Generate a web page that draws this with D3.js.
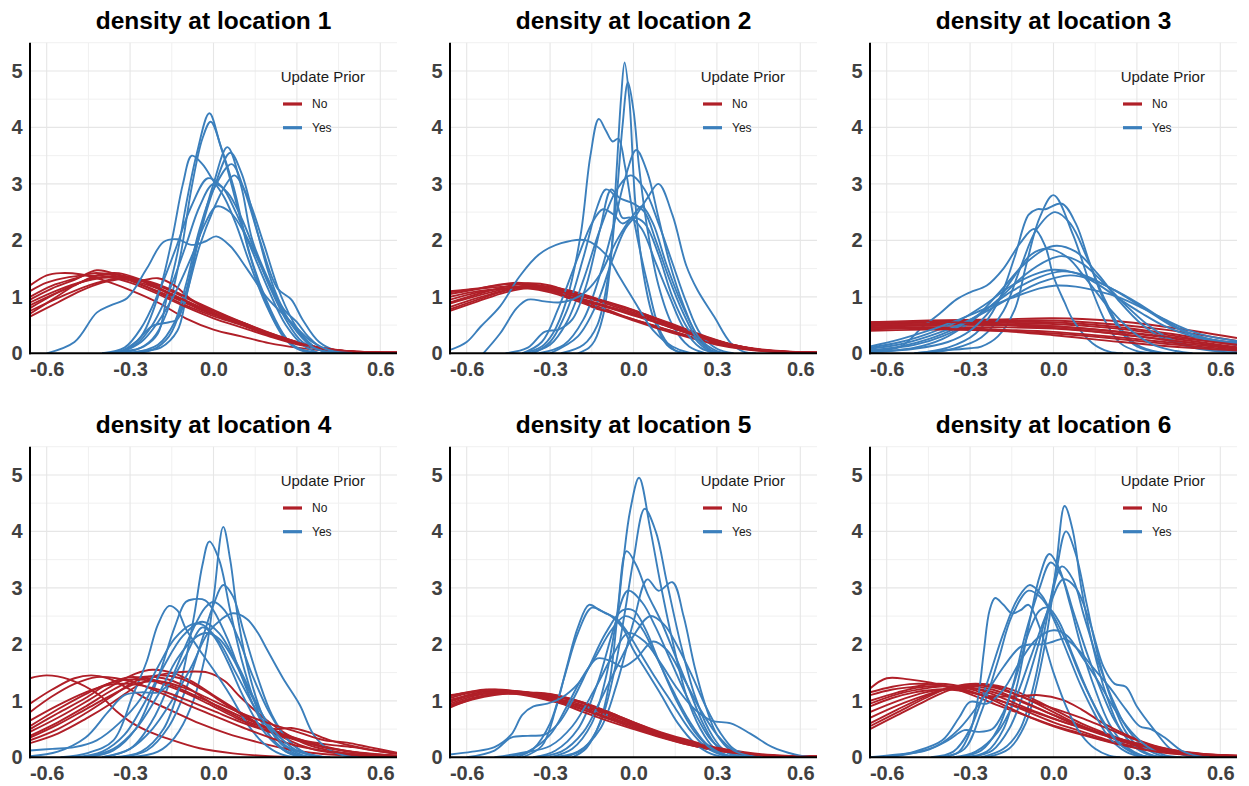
<!DOCTYPE html>
<html>
<head>
<meta charset="UTF-8">
<title>density at location</title>
<script src="https://d3js.org/d3.v7.min.js"></script>
<style>
  body { margin: 0; background: #fff; }
  text { font-family: "Liberation Sans", Arial, sans-serif; }
</style>
</head>
<body>
<svg id="chart" width="1249" height="786"></svg>
<script>

// tick labels, legend and titles
var xTicks = [-0.6, -0.3, 0.0, 0.3, 0.6];
var yTicks = [0, 1, 2, 3, 4, 5];
var titles = ["density at location 1", "density at location 2", "density at location 3",
              "density at location 4", "density at location 5", "density at location 6"];
var legendTitle = "Update Prior";
var groups = ["No", "Yes"];

// density curves, [x, density] per curve

var loc1No = [
  [[-0.66,1.2],[-0.6,1.38],[-0.55,1.42],[-0.48,1.4],[-0.4,1.3],[-0.3,1.12],[-0.2,0.9],[-0.1,0.62],[0,0.42],[0.1,0.3],[0.2,0.18],[0.3,0.1],[0.4,0.05],[0.5,0.02],[0.66,0.01]],
  [[-0.66,0.95],[-0.58,1.15],[-0.5,1.3],[-0.42,1.47],[-0.35,1.4],[-0.25,1.2],[-0.15,1.0],[-0.05,0.78],[0.05,0.6],[0.15,0.42],[0.25,0.25],[0.35,0.12],[0.45,0.05],[0.55,0.02],[0.66,0.01]],
  [[-0.66,0.7],[-0.58,0.95],[-0.5,1.2],[-0.42,1.38],[-0.36,1.4],[-0.28,1.32],[-0.2,1.15],[-0.1,0.9],[0,0.7],[0.1,0.52],[0.2,0.33],[0.3,0.17],[0.4,0.07],[0.5,0.03],[0.66,0.01]],
  [[-0.66,0.85],[-0.55,1.1],[-0.45,1.3],[-0.38,1.36],[-0.3,1.33],[-0.2,1.2],[-0.1,0.98],[0,0.75],[0.1,0.55],[0.2,0.35],[0.3,0.18],[0.4,0.08],[0.5,0.03],[0.66,0.01]],
  [[-0.66,0.75],[-0.55,1.0],[-0.45,1.2],[-0.35,1.32],[-0.27,1.28],[-0.2,1.33],[-0.14,1.2],[-0.08,0.95],[0,0.72],[0.1,0.55],[0.2,0.36],[0.3,0.2],[0.4,0.08],[0.5,0.03],[0.66,0.01]],
  [[-0.66,1.0],[-0.58,1.2],[-0.5,1.32],[-0.43,1.42],[-0.36,1.38],[-0.28,1.25],[-0.2,1.08],[-0.1,0.85],[0,0.66],[0.1,0.5],[0.2,0.32],[0.3,0.17],[0.4,0.07],[0.5,0.03],[0.66,0.01]],
  [[-0.66,0.65],[-0.56,0.9],[-0.48,1.1],[-0.4,1.25],[-0.32,1.32],[-0.24,1.28],[-0.15,1.12],[-0.05,0.88],[0.05,0.66],[0.15,0.46],[0.25,0.28],[0.35,0.13],[0.45,0.05],[0.55,0.02],[0.66,0.01]],
  [[-0.66,1.1],[-0.6,1.25],[-0.52,1.35],[-0.45,1.38],[-0.38,1.36],[-0.3,1.25],[-0.2,1.05],[-0.1,0.82],[0,0.62],[0.1,0.46],[0.2,0.3],[0.3,0.16],[0.4,0.07],[0.5,0.03],[0.66,0.01]],
  [[-0.66,0.8],[-0.57,1.05],[-0.48,1.25],[-0.4,1.4],[-0.34,1.42],[-0.26,1.3],[-0.18,1.12],[-0.08,0.88],[0.02,0.66],[0.12,0.48],[0.22,0.3],[0.32,0.15],[0.42,0.06],[0.52,0.02],[0.66,0.01]],
  [[-0.66,0.9],[-0.56,1.12],[-0.46,1.28],[-0.38,1.34],[-0.3,1.3],[-0.22,1.18],[-0.14,1.02],[-0.04,0.8],[0.06,0.6],[0.16,0.42],[0.26,0.25],[0.36,0.12],[0.46,0.05],[0.56,0.02],[0.66,0.01]]
];
var loc1Yes = [
  [[-0.4,0],[-0.3,0.05],[-0.25,0.12],[-0.2,0.35],[-0.17,0.94],[-0.13,1.77],[-0.096,2.7],[-0.06,3.54],[-0.015,4.25],[0.024,3.7],[0.072,2.95],[0.13,1.77],[0.19,0.94],[0.25,0.35],[0.29,0.12],[0.36,0.02],[0.42,0]],
  [[-0.38,0],[-0.28,0.06],[-0.22,0.25],[-0.17,0.7],[-0.12,1.7],[-0.08,2.9],[-0.04,3.8],[-0.01,4.1],[0.03,3.6],[0.08,2.7],[0.13,1.75],[0.18,1.0],[0.24,0.4],[0.3,0.1],[0.38,0]],
  [[-0.4,0],[-0.32,0.06],[-0.26,0.3],[-0.2,1.0],[-0.15,2.0],[-0.11,3.0],[-0.078,3.5],[-0.04,3.35],[0,3.05],[0.04,2.75],[0.08,2.3],[0.13,1.6],[0.19,0.85],[0.25,0.3],[0.3,0.08],[0.36,0]],
  [[-0.32,0],[-0.24,0.05],[-0.19,0.1],[-0.13,0.4],[-0.1,0.95],[-0.05,2.1],[0,3.0],[0.05,3.65],[0.1,2.95],[0.14,2.0],[0.22,1.06],[0.26,0.65],[0.31,0.35],[0.37,0.09],[0.43,0]],
  [[-0.3,0],[-0.22,0.06],[-0.16,0.3],[-0.11,0.9],[-0.06,1.9],[0,2.9],[0.06,3.55],[0.1,3.2],[0.15,2.3],[0.2,1.4],[0.25,0.8],[0.3,0.55],[0.34,0.3],[0.4,0.06],[0.46,0]],
  [[-0.3,0],[-0.2,0.15],[-0.14,0.55],[-0.1,1.2],[-0.05,2.2],[0,2.9],[0.065,3.35],[0.11,2.9],[0.17,1.95],[0.23,1.15],[0.28,0.95],[0.32,0.6],[0.38,0.2],[0.45,0.03],[0.5,0]],
  [[-0.34,0],[-0.28,0.2],[-0.22,0.48],[-0.16,0.55],[-0.13,0.6],[-0.1,1.0],[-0.05,1.9],[0,2.55],[0.04,2.95],[0.075,3.15],[0.12,2.8],[0.18,1.95],[0.24,1.05],[0.3,0.45],[0.36,0.12],[0.42,0]],
  [[-0.4,0],[-0.32,0.1],[-0.26,0.45],[-0.2,1.05],[-0.14,1.8],[-0.08,2.6],[-0.02,3.1],[0.03,2.95],[0.08,2.5],[0.14,1.8],[0.2,1.1],[0.26,0.5],[0.32,0.15],[0.38,0]],
  [[-0.36,0],[-0.28,0.15],[-0.22,0.5],[-0.16,1.1],[-0.1,1.9],[-0.05,2.6],[0,3.0],[0.05,2.85],[0.1,2.4],[0.15,1.8],[0.2,1.2],[0.26,0.6],[0.32,0.2],[0.4,0.03],[0.46,0]],
  [[-0.34,0],[-0.26,0.2],[-0.2,0.55],[-0.14,1.05],[-0.08,1.7],[-0.03,2.3],[0.01,2.6],[0.06,2.5],[0.12,2.05],[0.18,1.45],[0.24,0.85],[0.3,0.38],[0.36,0.1],[0.44,0]],
  [[-0.6,0],[-0.5,0.2],[-0.42,0.72],[-0.37,0.85],[-0.31,0.98],[-0.24,1.5],[-0.18,1.97],[-0.13,2.02],[-0.08,1.92],[-0.03,1.98],[0.01,2.07],[0.06,1.9],[0.12,1.5],[0.19,1.0],[0.27,0.6],[0.35,0.22],[0.42,0.05],[0.5,0]]
];

var loc2No = [
  [[-0.66,1.1],[-0.56,1.15],[-0.46,1.22],[-0.38,1.22],[-0.3,1.12],[-0.2,0.95],[-0.1,0.78],[0,0.6],[0.1,0.45],[0.2,0.3],[0.3,0.18],[0.4,0.09],[0.5,0.04],[0.66,0.01]],
  [[-0.66,0.75],[-0.56,0.92],[-0.46,1.08],[-0.38,1.15],[-0.3,1.12],[-0.2,1.02],[-0.1,0.88],[0,0.72],[0.1,0.56],[0.2,0.38],[0.3,0.22],[0.4,0.11],[0.5,0.05],[0.66,0.01]],
  [[-0.66,0.9],[-0.56,1.05],[-0.46,1.18],[-0.38,1.24],[-0.3,1.2],[-0.22,1.05],[-0.15,0.82],[-0.08,0.72],[0,0.6],[0.1,0.45],[0.2,0.3],[0.3,0.17],[0.4,0.08],[0.5,0.03],[0.66,0.01]],
  [[-0.66,1.0],[-0.56,1.1],[-0.46,1.15],[-0.36,1.18],[-0.26,1.12],[-0.16,1.0],[-0.06,0.85],[0.04,0.68],[0.14,0.5],[0.24,0.32],[0.34,0.17],[0.44,0.07],[0.54,0.03],[0.66,0.01]],
  [[-0.66,0.82],[-0.56,0.98],[-0.46,1.12],[-0.38,1.2],[-0.3,1.18],[-0.22,1.1],[-0.12,0.95],[-0.02,0.8],[0.08,0.62],[0.18,0.42],[0.28,0.25],[0.38,0.12],[0.48,0.05],[0.66,0.01]],
  [[-0.66,1.05],[-0.58,1.12],[-0.5,1.2],[-0.42,1.25],[-0.34,1.2],[-0.26,1.08],[-0.18,0.95],[-0.08,0.8],[0.02,0.65],[0.12,0.48],[0.22,0.32],[0.32,0.18],[0.42,0.08],[0.52,0.03],[0.66,0.01]],
  [[-0.66,0.95],[-0.56,1.08],[-0.46,1.15],[-0.38,1.15],[-0.3,1.08],[-0.2,0.92],[-0.1,0.75],[0,0.58],[0.1,0.42],[0.2,0.28],[0.3,0.15],[0.4,0.07],[0.5,0.03],[0.66,0.01]],
  [[-0.66,0.78],[-0.56,0.95],[-0.48,1.08],[-0.4,1.16],[-0.32,1.16],[-0.24,1.08],[-0.14,0.96],[-0.04,0.82],[0.06,0.66],[0.16,0.48],[0.26,0.3],[0.36,0.15],[0.46,0.06],[0.56,0.02],[0.66,0.01]],
  [[-0.66,1.08],[-0.56,1.14],[-0.46,1.18],[-0.38,1.17],[-0.3,1.1],[-0.22,0.98],[-0.12,0.85],[-0.02,0.7],[0.08,0.55],[0.18,0.38],[0.28,0.22],[0.38,0.1],[0.48,0.04],[0.66,0.01]],
  [[-0.66,0.88],[-0.56,1.02],[-0.46,1.14],[-0.38,1.2],[-0.3,1.16],[-0.22,1.02],[-0.14,0.9],[-0.04,0.76],[0.06,0.6],[0.16,0.44],[0.26,0.28],[0.36,0.14],[0.46,0.06],[0.56,0.02],[0.66,0.01]]
];
var loc2Yes = [
  [[-0.2,0],[-0.16,0.1],[-0.14,0.22],[-0.11,0.65],[-0.084,1.53],[-0.06,3.3],[-0.045,4.5],[-0.032,5.15],[-0.015,4.5],[0.006,2.7],[0.036,1.4],[0.07,0.65],[0.12,0.15],[0.16,0.03],[0.2,0]],
  [[-0.26,0],[-0.18,0.15],[-0.13,0.5],[-0.09,1.4],[-0.06,2.8],[-0.04,4.0],[-0.02,4.8],[0,4.3],[0.02,3.3],[0.05,2.2],[0.09,1.2],[0.14,0.5],[0.2,0.12],[0.26,0]],
  [[-0.4,0],[-0.33,0.12],[-0.29,0.35],[-0.24,0.95],[-0.19,2.1],[-0.155,3.5],[-0.125,4.15],[-0.1,3.95],[-0.075,3.75],[-0.055,3.8],[-0.03,3.3],[0,2.4],[0.05,1.24],[0.1,0.35],[0.15,0.05],[0.2,0]],
  [[-0.34,0],[-0.25,0.15],[-0.18,0.6],[-0.12,1.4],[-0.07,2.3],[-0.03,3.1],[0.01,3.6],[0.05,3.2],[0.09,2.4],[0.13,1.6],[0.18,0.85],[0.23,0.3],[0.28,0.05],[0.32,0]],
  [[-0.38,0],[-0.3,0.15],[-0.24,0.55],[-0.18,1.3],[-0.12,2.2],[-0.06,2.9],[-0.01,3.15],[0.04,2.9],[0.09,2.3],[0.14,1.6],[0.19,0.9],[0.24,0.35],[0.3,0.08],[0.36,0]],
  [[-0.3,0],[-0.2,0.3],[-0.13,0.9],[-0.08,1.6],[-0.03,2.2],[0.01,2.45],[0.05,2.75],[0.09,3.0],[0.14,2.45],[0.19,1.55],[0.23,1.12],[0.29,0.65],[0.35,0.18],[0.4,0.02],[0.44,0]],
  [[-0.36,0],[-0.3,0.2],[-0.24,0.75],[-0.18,1.7],[-0.13,2.6],[-0.1,2.9],[-0.07,2.8],[-0.04,2.4],[-0.01,2.4],[0.03,2.2],[0.08,1.6],[0.13,1.0],[0.18,0.45],[0.24,0.1],[0.3,0]],
  [[-0.4,0],[-0.33,0.2],[-0.27,0.8],[-0.2,1.7],[-0.15,2.3],[-0.11,2.55],[-0.07,2.45],[-0.04,2.3],[0,2.4],[0.04,2.3],[0.09,1.75],[0.14,1.0],[0.2,0.4],[0.26,0.08],[0.32,0]],
  [[-0.66,0.06],[-0.6,0.2],[-0.55,0.47],[-0.48,0.83],[-0.41,1.36],[-0.34,1.75],[-0.26,1.95],[-0.17,2.0],[-0.1,1.75],[-0.05,1.35],[0,0.95],[0.07,0.41],[0.14,0.12],[0.2,0.01],[0.24,0]],
  [[-0.54,0],[-0.48,0.35],[-0.42,0.8],[-0.38,0.95],[-0.32,0.92],[-0.27,0.9],[-0.22,0.95],[-0.17,1.1],[-0.12,1.4],[-0.06,2.0],[0,2.45],[0.03,2.6],[0.07,2.3],[0.12,1.55],[0.18,0.8],[0.24,0.25],[0.3,0.04],[0.35,0]],
  [[-0.46,0],[-0.38,0.1],[-0.32,0.38],[-0.27,0.42],[-0.22,0.6],[-0.17,1.2],[-0.12,2.2],[-0.08,2.9],[-0.05,2.75],[0,2.65],[0.04,2.5],[0.08,2.0],[0.13,1.3],[0.18,0.7],[0.23,0.25],[0.28,0.05],[0.32,0]]
];

var loc3No = [
  [[-0.66,0.55],[-0.45,0.58],[-0.2,0.6],[0,0.62],[0.2,0.58],[0.4,0.47],[0.66,0.27]],
  [[-0.66,0.5],[-0.45,0.55],[-0.2,0.58],[0,0.58],[0.2,0.52],[0.4,0.42],[0.66,0.22]],
  [[-0.66,0.52],[-0.45,0.56],[-0.2,0.56],[0,0.55],[0.2,0.48],[0.4,0.36],[0.66,0.17]],
  [[-0.66,0.48],[-0.45,0.52],[-0.2,0.54],[0,0.52],[0.2,0.45],[0.4,0.33],[0.66,0.14]],
  [[-0.66,0.45],[-0.45,0.5],[-0.2,0.5],[0,0.48],[0.2,0.4],[0.4,0.28],[0.66,0.11]],
  [[-0.66,0.42],[-0.45,0.46],[-0.2,0.46],[0,0.44],[0.2,0.36],[0.4,0.24],[0.66,0.09]],
  [[-0.66,0.5],[-0.45,0.52],[-0.2,0.5],[0,0.45],[0.2,0.36],[0.4,0.24],[0.66,0.1]],
  [[-0.66,0.46],[-0.45,0.46],[-0.2,0.42],[0,0.38],[0.2,0.3],[0.4,0.2],[0.66,0.08]],
  [[-0.66,0.4],[-0.45,0.42],[-0.2,0.4],[0,0.35],[0.2,0.27],[0.4,0.17],[0.66,0.06]],
  [[-0.66,0.44],[-0.45,0.44],[-0.2,0.4],[0,0.32],[0.2,0.22],[0.4,0.13],[0.66,0.05]],
  [[-0.66,0.55],[-0.45,0.56],[-0.2,0.52],[0,0.48],[0.2,0.4],[0.4,0.3],[0.66,0.15]]
];
var loc3Yes = [
  [[-0.5,0],[-0.4,0.05],[-0.3,0.09],[-0.26,0.12],[-0.2,0.3],[-0.14,0.77],[-0.1,1.53],[-0.05,2.4],[0,2.8],[0.07,2.1],[0.14,1.1],[0.19,0.53],[0.24,0.18],[0.3,0.04],[0.36,0]],
  [[-0.5,0],[-0.38,0.1],[-0.28,0.35],[-0.2,0.9],[-0.14,1.7],[-0.09,2.45],[-0.06,2.55],[-0.03,2.55],[0.03,2.65],[0.08,2.3],[0.13,1.6],[0.18,0.95],[0.24,0.4],[0.3,0.12],[0.38,0.01],[0.42,0]],
  [[-0.46,0],[-0.36,0.08],[-0.26,0.28],[-0.18,0.75],[-0.12,1.5],[-0.06,2.2],[0.005,2.5],[0.06,2.3],[0.12,1.7],[0.18,1.0],[0.24,0.45],[0.3,0.15],[0.38,0.02],[0.44,0]],
  [[-0.66,0.05],[-0.55,0.12],[-0.47,0.47],[-0.41,0.7],[-0.35,0.95],[-0.3,1.08],[-0.24,1.2],[-0.18,1.5],[-0.12,1.95],[-0.07,2.2],[-0.03,1.9],[0,1.36],[0.04,0.9],[0.07,0.59],[0.14,0.18],[0.2,0.03],[0.25,0]],
  [[-0.66,0.05],[-0.5,0.15],[-0.4,0.3],[-0.3,0.55],[-0.2,1.05],[-0.1,1.6],[0,1.9],[0.08,1.8],[0.16,1.4],[0.24,0.9],[0.32,0.5],[0.4,0.25],[0.5,0.1],[0.6,0.03],[0.66,0.02]],
  [[-0.66,0.02],[-0.5,0.1],[-0.4,0.25],[-0.3,0.55],[-0.2,0.95],[-0.1,1.4],[-0.02,1.65],[0.03,1.72],[0.1,1.6],[0.18,1.25],[0.26,0.85],[0.34,0.5],[0.42,0.25],[0.52,0.1],[0.66,0.04]],
  [[-0.66,0.1],[-0.55,0.2],[-0.45,0.35],[-0.35,0.55],[-0.25,0.85],[-0.15,1.2],[-0.05,1.43],[0,1.48],[0.08,1.42],[0.16,1.22],[0.24,0.95],[0.32,0.7],[0.4,0.48],[0.5,0.3],[0.6,0.2],[0.66,0.15]],
  [[-0.66,0.05],[-0.55,0.12],[-0.45,0.25],[-0.35,0.45],[-0.25,0.75],[-0.15,1.1],[-0.05,1.35],[0.03,1.45],[0.1,1.4],[0.18,1.22],[0.26,1.0],[0.34,0.75],[0.42,0.5],[0.5,0.33],[0.6,0.22],[0.66,0.2]],
  [[-0.66,0.08],[-0.55,0.16],[-0.45,0.3],[-0.35,0.48],[-0.25,0.72],[-0.15,1.0],[-0.05,1.25],[0.06,1.38],[0.14,1.3],[0.22,1.12],[0.3,0.9],[0.38,0.65],[0.46,0.42],[0.56,0.25],[0.66,0.18]],
  [[-0.66,0.12],[-0.55,0.25],[-0.45,0.4],[-0.35,0.58],[-0.25,0.78],[-0.15,0.98],[-0.05,1.15],[0.01,1.2],[0.08,1.18],[0.16,1.1],[0.24,0.98],[0.32,0.8],[0.4,0.6],[0.48,0.42],[0.56,0.3],[0.66,0.22]],
  [[-0.66,0.02],[-0.5,0.08],[-0.38,0.2],[-0.3,0.4],[-0.22,0.8],[-0.15,1.3],[-0.08,1.75],[-0.02,1.85],[0.05,1.7],[0.12,1.3],[0.2,0.8],[0.28,0.4],[0.36,0.15],[0.44,0.04],[0.5,0]]
];

var loc4No = [
  [[-0.66,1.4],[-0.6,1.45],[-0.52,1.38],[-0.41,1.1],[-0.35,0.82],[-0.29,0.6],[-0.23,0.45],[-0.17,0.34],[-0.05,0.16],[0.07,0.07],[0.2,0.02],[0.3,0]],
  [[-0.66,0.95],[-0.58,1.2],[-0.5,1.4],[-0.44,1.45],[-0.38,1.4],[-0.3,1.2],[-0.22,0.98],[-0.14,0.8],[-0.05,0.6],[0.05,0.42],[0.15,0.28],[0.25,0.16],[0.35,0.08],[0.45,0.04],[0.55,0.02],[0.66,0.01]],
  [[-0.66,0.45],[-0.56,0.7],[-0.46,0.98],[-0.36,1.28],[-0.28,1.48],[-0.22,1.55],[-0.15,1.5],[-0.08,1.35],[0,1.1],[0.08,0.85],[0.16,0.6],[0.24,0.38],[0.32,0.2],[0.4,0.1],[0.5,0.04],[0.66,0.01]],
  [[-0.66,0.25],[-0.56,0.42],[-0.46,0.68],[-0.36,0.98],[-0.28,1.25],[-0.2,1.45],[-0.14,1.5],[-0.02,1.5],[0.04,1.35],[0.1,1.05],[0.18,0.7],[0.26,0.42],[0.34,0.22],[0.44,0.1],[0.54,0.04],[0.66,0.01]],
  [[-0.66,0.5],[-0.56,0.78],[-0.46,1.05],[-0.38,1.3],[-0.3,1.42],[-0.22,1.38],[-0.14,1.25],[-0.06,1.08],[0.02,0.9],[0.1,0.72],[0.18,0.55],[0.26,0.4],[0.34,0.27],[0.44,0.15],[0.54,0.07],[0.66,0.02]],
  [[-0.66,0.38],[-0.56,0.62],[-0.46,0.9],[-0.36,1.2],[-0.26,1.42],[-0.18,1.4],[-0.1,1.25],[-0.02,1.0],[0.06,0.78],[0.14,0.6],[0.22,0.5],[0.28,0.52],[0.34,0.45],[0.42,0.3],[0.5,0.2],[0.58,0.12],[0.66,0.06]],
  [[-0.66,0.55],[-0.56,0.85],[-0.46,1.12],[-0.38,1.3],[-0.3,1.38],[-0.22,1.35],[-0.12,1.18],[-0.02,0.95],[0.08,0.7],[0.18,0.5],[0.26,0.38],[0.34,0.28],[0.42,0.22],[0.5,0.18],[0.58,0.12],[0.66,0.07]],
  [[-0.66,0.3],[-0.56,0.5],[-0.46,0.78],[-0.36,1.1],[-0.28,1.35],[-0.2,1.45],[-0.12,1.4],[-0.04,1.2],[0.04,0.95],[0.12,0.7],[0.2,0.5],[0.28,0.35],[0.36,0.22],[0.46,0.12],[0.56,0.06],[0.66,0.03]],
  [[-0.66,0.65],[-0.56,0.92],[-0.46,1.15],[-0.38,1.28],[-0.3,1.3],[-0.2,1.2],[-0.1,1.02],[0,0.82],[0.1,0.62],[0.2,0.45],[0.3,0.3],[0.4,0.18],[0.5,0.1],[0.6,0.05],[0.66,0.03]],
  [[-0.66,0.8],[-0.58,1.08],[-0.5,1.3],[-0.42,1.42],[-0.35,1.4],[-0.27,1.3],[-0.18,1.12],[-0.08,0.9],[0.02,0.7],[0.12,0.5],[0.22,0.32],[0.32,0.18],[0.42,0.1],[0.52,0.05],[0.66,0.02]],
  [[-0.66,0.35],[-0.56,0.58],[-0.46,0.85],[-0.36,1.12],[-0.28,1.3],[-0.2,1.35],[-0.1,1.22],[0,1.0],[0.1,0.78],[0.2,0.6],[0.3,0.45],[0.4,0.3],[0.48,0.26],[0.56,0.18],[0.66,0.08]]
];
var loc4Yes = [
  [[-0.3,0],[-0.2,0.1],[-0.14,0.35],[-0.08,0.9],[-0.03,1.8],[0,2.8],[0.035,4.08],[0.06,3.5],[0.09,2.4],[0.13,1.45],[0.18,0.7],[0.24,0.25],[0.3,0.05],[0.36,0]],
  [[-0.36,0],[-0.26,0.1],[-0.18,0.5],[-0.12,1.3],[-0.07,2.5],[-0.04,3.4],[-0.015,3.82],[0.02,3.5],[0.06,2.6],[0.1,1.75],[0.15,0.95],[0.2,0.4],[0.26,0.1],[0.32,0]],
  [[-0.34,0],[-0.24,0.12],[-0.16,0.55],[-0.1,1.2],[-0.04,2.1],[0,2.7],[0.035,3.05],[0.07,2.85],[0.11,2.2],[0.16,1.4],[0.21,0.75],[0.27,0.3],[0.33,0.08],[0.4,0]],
  [[-0.45,0],[-0.36,0.12],[-0.28,0.5],[-0.2,1.4],[-0.14,2.3],[-0.1,2.75],[-0.07,2.8],[-0.03,2.78],[0,2.6],[0.05,2.1],[0.1,1.45],[0.15,0.85],[0.2,0.4],[0.26,0.12],[0.32,0]],
  [[-0.4,0],[-0.3,0.15],[-0.22,0.65],[-0.15,1.4],[-0.08,2.2],[-0.03,2.65],[0,2.75],[0.04,2.6],[0.09,2.1],[0.14,1.45],[0.2,0.8],[0.26,0.35],[0.32,0.1],[0.38,0]],
  [[-0.55,0],[-0.45,0.08],[-0.36,0.3],[-0.29,1.1],[-0.24,1.7],[-0.2,2.35],[-0.16,2.68],[-0.13,2.6],[-0.1,2.28],[-0.05,1.9],[0,1.55],[0.06,1.1],[0.12,0.6],[0.18,0.25],[0.24,0.06],[0.3,0]],
  [[-0.4,0],[-0.3,0.15],[-0.22,0.5],[-0.15,1.0],[-0.08,1.6],[-0.02,2.2],[0.03,2.45],[0.07,2.55],[0.12,2.45],[0.16,2.2],[0.19,1.93],[0.25,1.4],[0.31,0.93],[0.36,0.4],[0.42,0.12],[0.48,0.02],[0.52,0]],
  [[-0.5,0],[-0.4,0.1],[-0.32,0.4],[-0.25,0.95],[-0.18,1.6],[-0.11,2.15],[-0.04,2.4],[0.02,2.2],[0.08,1.7],[0.14,1.1],[0.2,0.55],[0.26,0.2],[0.32,0.04],[0.38,0]],
  [[-0.66,0.02],[-0.56,0.1],[-0.46,0.35],[-0.38,0.8],[-0.32,1.1],[-0.26,1.15],[-0.2,1.15],[-0.16,1.3],[-0.1,1.8],[-0.04,2.3],[0,2.15],[0.05,1.7],[0.1,1.15],[0.16,0.6],[0.22,0.25],[0.28,0.06],[0.34,0]],
  [[-0.46,0],[-0.36,0.15],[-0.28,0.5],[-0.2,1.1],[-0.13,1.75],[-0.07,2.1],[-0.03,2.2],[0.02,2.1],[0.07,1.75],[0.12,1.25],[0.18,0.72],[0.24,0.35],[0.3,0.12],[0.38,0.02],[0.42,0]],
  [[-0.66,0.12],[-0.58,0.15],[-0.5,0.18],[-0.42,0.3],[-0.34,0.6],[-0.26,1.05],[-0.2,1.6],[-0.14,2.1],[-0.08,2.35],[-0.04,2.35],[0.02,2.05],[0.08,1.5],[0.14,0.95],[0.2,0.5],[0.26,0.2],[0.34,0.05],[0.4,0]]
];

var loc5No = [
  [[-0.66,1.1],[-0.6,1.15],[-0.53,1.2],[-0.45,1.18],[-0.37,1.15],[-0.3,1.12],[-0.24,1.05],[-0.15,0.92],[-0.05,0.72],[0.05,0.52],[0.15,0.34],[0.25,0.2],[0.35,0.1],[0.45,0.04],[0.55,0.02],[0.66,0.01]],
  [[-0.66,0.88],[-0.6,1.0],[-0.53,1.1],[-0.45,1.15],[-0.37,1.12],[-0.3,1.05],[-0.22,0.95],[-0.15,0.85],[-0.05,0.65],[0.05,0.45],[0.15,0.3],[0.25,0.17],[0.35,0.09],[0.45,0.04],[0.55,0.02],[0.66,0.01]],
  [[-0.66,1.0],[-0.58,1.12],[-0.5,1.18],[-0.42,1.16],[-0.34,1.08],[-0.26,0.98],[-0.18,0.85],[-0.1,0.7],[0,0.52],[0.1,0.36],[0.2,0.22],[0.3,0.12],[0.4,0.06],[0.5,0.02],[0.66,0.01]],
  [[-0.66,0.95],[-0.58,1.08],[-0.5,1.15],[-0.42,1.15],[-0.34,1.1],[-0.26,1.02],[-0.18,0.92],[-0.1,0.78],[0,0.58],[0.1,0.4],[0.2,0.26],[0.3,0.14],[0.4,0.07],[0.5,0.03],[0.66,0.01]],
  [[-0.66,1.05],[-0.58,1.15],[-0.5,1.2],[-0.42,1.17],[-0.34,1.12],[-0.28,1.1],[-0.2,1.0],[-0.12,0.85],[-0.02,0.62],[0.08,0.44],[0.18,0.28],[0.28,0.16],[0.38,0.08],[0.48,0.03],[0.66,0.01]],
  [[-0.66,0.92],[-0.58,1.05],[-0.5,1.12],[-0.42,1.12],[-0.34,1.05],[-0.26,0.95],[-0.18,0.8],[-0.1,0.66],[0,0.5],[0.1,0.35],[0.2,0.22],[0.3,0.12],[0.4,0.06],[0.5,0.02],[0.66,0.01]],
  [[-0.66,1.02],[-0.58,1.1],[-0.5,1.14],[-0.42,1.14],[-0.34,1.1],[-0.26,1.05],[-0.18,0.96],[-0.1,0.82],[0,0.62],[0.1,0.44],[0.2,0.3],[0.3,0.17],[0.4,0.09],[0.5,0.04],[0.66,0.01]],
  [[-0.66,0.9],[-0.58,1.02],[-0.5,1.1],[-0.42,1.13],[-0.34,1.1],[-0.26,1.0],[-0.18,0.88],[-0.1,0.72],[0,0.55],[0.1,0.38],[0.2,0.24],[0.3,0.13],[0.4,0.06],[0.5,0.03],[0.66,0.01]],
  [[-0.66,1.08],[-0.58,1.16],[-0.5,1.18],[-0.42,1.15],[-0.34,1.06],[-0.26,0.96],[-0.18,0.84],[-0.1,0.7],[0,0.56],[0.1,0.42],[0.2,0.28],[0.3,0.15],[0.4,0.07],[0.5,0.03],[0.66,0.01]],
  [[-0.66,0.98],[-0.58,1.1],[-0.5,1.16],[-0.42,1.16],[-0.34,1.12],[-0.26,1.06],[-0.18,0.95],[-0.1,0.8],[0,0.6],[0.1,0.42],[0.2,0.27],[0.3,0.15],[0.4,0.07],[0.5,0.03],[0.66,0.01]]
];
var loc5Yes = [
  [[-0.22,0],[-0.17,0.16],[-0.12,0.63],[-0.084,1.4],[-0.06,2.4],[-0.036,3.5],[-0.012,4.37],[0.02,4.95],[0.06,4.05],[0.096,3.1],[0.144,1.98],[0.19,1.1],[0.24,0.51],[0.29,0.16],[0.34,0.03],[0.38,0]],
  [[-0.25,0],[-0.18,0.15],[-0.12,0.6],[-0.07,1.5],[-0.03,2.6],[0,3.5],[0.04,4.4],[0.08,4.0],[0.12,3.1],[0.17,2.0],[0.22,1.1],[0.27,0.5],[0.32,0.15],[0.38,0.02],[0.42,0]],
  [[-0.3,0],[-0.22,0.15],[-0.15,0.6],[-0.1,1.4],[-0.06,2.5],[-0.025,3.65],[0.01,3.4],[0.05,2.9],[0.1,2.4],[0.15,1.8],[0.2,1.2],[0.25,0.6],[0.3,0.2],[0.36,0.04],[0.4,0]],
  [[-0.3,0],[-0.2,0.1],[-0.12,0.5],[-0.06,1.3],[0,2.4],[0.05,3.15],[0.09,2.95],[0.14,3.1],[0.18,2.5],[0.22,1.6],[0.26,0.9],[0.3,0.4],[0.35,0.12],[0.4,0.02],[0.44,0]],
  [[-0.36,0],[-0.28,0.12],[-0.2,0.5],[-0.13,1.3],[-0.07,2.3],[-0.02,2.95],[0.03,2.75],[0.08,2.3],[0.13,1.75],[0.18,1.2],[0.23,0.7],[0.28,0.3],[0.34,0.08],[0.4,0]],
  [[-0.4,0],[-0.33,0.2],[-0.28,0.85],[-0.24,1.6],[-0.2,2.3],[-0.16,2.7],[-0.12,2.6],[-0.08,2.5],[-0.04,2.3],[0,1.9],[0.05,1.5],[0.1,1.1],[0.16,0.6],[0.22,0.25],[0.28,0.06],[0.34,0]],
  [[-0.42,0],[-0.36,0.15],[-0.3,0.6],[-0.25,1.4],[-0.2,2.2],[-0.15,2.65],[-0.1,2.55],[-0.06,2.45],[-0.02,2.2],[0.03,1.8],[0.08,1.4],[0.14,0.95],[0.2,0.5],[0.26,0.18],[0.32,0.04],[0.36,0]],
  [[-0.36,0],[-0.26,0.1],[-0.18,0.45],[-0.12,1.0],[-0.06,1.6],[0,2.15],[0.06,2.5],[0.11,2.35],[0.16,1.95],[0.21,1.45],[0.26,0.9],[0.31,0.45],[0.36,0.15],[0.42,0.03],[0.46,0]],
  [[-0.5,0],[-0.4,0.08],[-0.3,0.2],[-0.22,0.55],[-0.14,1.2],[-0.07,1.85],[-0.02,2.2],[0.04,2.05],[0.1,1.65],[0.16,1.2],[0.22,0.85],[0.28,0.65],[0.35,0.6],[0.42,0.42],[0.5,0.18],[0.58,0.05],[0.64,0]],
  [[-0.46,0],[-0.38,0.1],[-0.3,0.4],[-0.24,0.9],[-0.18,1.45],[-0.13,1.75],[-0.08,1.7],[-0.04,1.6],[0.01,1.75],[0.07,2.05],[0.12,1.9],[0.18,1.4],[0.24,0.85],[0.3,0.4],[0.36,0.12],[0.42,0.02],[0.46,0]],
  [[-0.66,0.05],[-0.58,0.1],[-0.5,0.18],[-0.44,0.4],[-0.4,0.75],[-0.36,0.9],[-0.31,0.95],[-0.26,1.05],[-0.2,1.3],[-0.14,1.75],[-0.08,2.25],[-0.03,2.5],[0.02,2.35],[0.08,1.8],[0.14,1.2],[0.2,0.65],[0.26,0.25],[0.32,0.06],[0.38,0]],
  [[-0.6,0],[-0.5,0.12],[-0.44,0.35],[-0.38,0.38],[-0.32,0.4],[-0.27,0.6],[-0.22,1.0],[-0.16,1.6],[-0.1,2.2],[-0.04,2.6],[0,2.6],[0.04,2.3],[0.1,1.6],[0.16,0.95],[0.22,0.45],[0.28,0.15],[0.34,0.03],[0.4,0]]
];

var loc6No = [
  [[-0.66,1.22],[-0.6,1.4],[-0.52,1.38],[-0.44,1.32],[-0.36,1.22],[-0.28,1.08],[-0.2,0.92],[-0.1,0.74],[0,0.56],[0.1,0.42],[0.2,0.28],[0.3,0.17],[0.4,0.09],[0.5,0.05],[0.66,0.02]],
  [[-0.66,0.5],[-0.56,0.75],[-0.46,1.0],[-0.38,1.18],[-0.3,1.28],[-0.22,1.28],[-0.14,1.18],[-0.06,1.0],[0.02,0.8],[0.1,0.6],[0.2,0.4],[0.3,0.23],[0.4,0.12],[0.5,0.06],[0.66,0.02]],
  [[-0.66,0.55],[-0.56,0.8],[-0.46,1.05],[-0.38,1.22],[-0.3,1.3],[-0.23,1.28],[-0.15,1.15],[-0.06,0.95],[0.02,0.75],[0.1,0.56],[0.2,0.38],[0.3,0.22],[0.4,0.12],[0.5,0.06],[0.66,0.02]],
  [[-0.66,1.1],[-0.58,1.2],[-0.5,1.25],[-0.43,1.3],[-0.36,1.28],[-0.28,1.18],[-0.2,1.02],[-0.1,0.82],[0,0.62],[0.1,0.46],[0.2,0.3],[0.3,0.18],[0.4,0.1],[0.5,0.05],[0.66,0.02]],
  [[-0.66,0.9],[-0.58,1.05],[-0.5,1.15],[-0.42,1.2],[-0.34,1.22],[-0.26,1.2],[-0.18,1.1],[-0.1,0.95],[0,0.75],[0.1,0.55],[0.2,0.36],[0.3,0.2],[0.4,0.11],[0.5,0.05],[0.66,0.02]],
  [[-0.66,0.8],[-0.56,1.0],[-0.46,1.15],[-0.38,1.2],[-0.3,1.15],[-0.22,1.08],[-0.14,1.08],[-0.05,1.1],[0.03,1.02],[0.1,0.85],[0.18,0.6],[0.26,0.4],[0.34,0.24],[0.44,0.12],[0.54,0.06],[0.66,0.03]],
  [[-0.66,0.6],[-0.56,0.85],[-0.46,1.08],[-0.38,1.22],[-0.3,1.26],[-0.22,1.2],[-0.14,1.05],[-0.06,0.88],[0.02,0.7],[0.1,0.54],[0.2,0.38],[0.3,0.25],[0.4,0.14],[0.5,0.07],[0.66,0.03]],
  [[-0.66,1.15],[-0.58,1.25],[-0.5,1.3],[-0.42,1.28],[-0.34,1.2],[-0.26,1.1],[-0.18,0.98],[-0.08,0.82],[0.02,0.65],[0.12,0.5],[0.22,0.35],[0.32,0.21],[0.42,0.11],[0.52,0.05],[0.66,0.02]],
  [[-0.66,0.95],[-0.56,1.12],[-0.46,1.22],[-0.38,1.26],[-0.3,1.24],[-0.22,1.12],[-0.14,0.96],[-0.06,0.8],[0.02,0.65],[0.1,0.52],[0.2,0.36],[0.3,0.22],[0.4,0.12],[0.5,0.06],[0.66,0.02]],
  [[-0.66,0.7],[-0.56,0.92],[-0.46,1.1],[-0.38,1.22],[-0.3,1.28],[-0.22,1.24],[-0.14,1.12],[-0.05,0.95],[0.04,0.8],[0.12,0.66],[0.2,0.5],[0.28,0.34],[0.36,0.2],[0.46,0.1],[0.56,0.05],[0.66,0.03]],
  [[-0.66,1.0],[-0.56,1.15],[-0.48,1.24],[-0.4,1.26],[-0.32,1.2],[-0.24,1.06],[-0.16,0.88],[-0.08,0.7],[0,0.55],[0.1,0.4],[0.2,0.27],[0.3,0.16],[0.4,0.08],[0.5,0.04],[0.66,0.02]]
];
var loc6Yes = [
  [[-0.24,0],[-0.16,0.15],[-0.1,0.6],[-0.06,1.3],[-0.02,2.3],[0.01,3.4],[0.04,4.45],[0.07,4.0],[0.1,3.0],[0.14,2.0],[0.19,1.1],[0.24,0.5],[0.3,0.15],[0.36,0.02],[0.4,0]],
  [[-0.26,0],[-0.18,0.15],[-0.12,0.5],[-0.07,1.3],[-0.03,2.3],[0.01,3.3],[0.045,4.0],[0.08,3.6],[0.12,2.7],[0.16,1.8],[0.21,1.0],[0.26,0.45],[0.32,0.12],[0.38,0]],
  [[-0.32,0],[-0.24,0.1],[-0.18,0.5],[-0.13,1.3],[-0.09,2.3],[-0.05,3.2],[-0.015,3.6],[0.02,3.35],[0.06,2.7],[0.1,1.95],[0.15,1.2],[0.2,0.6],[0.26,0.2],[0.32,0.03],[0.36,0]],
  [[-0.34,0],[-0.26,0.12],[-0.2,0.5],[-0.15,1.2],[-0.1,2.2],[-0.05,3.0],[-0.01,3.45],[0.03,3.2],[0.07,2.6],[0.12,1.85],[0.17,1.2],[0.22,0.65],[0.28,0.25],[0.34,0.05],[0.4,0]],
  [[-0.3,0],[-0.22,0.12],[-0.16,0.5],[-0.11,1.1],[-0.06,1.9],[-0.01,2.8],[0.03,3.38],[0.07,3.15],[0.11,2.5],[0.16,1.7],[0.21,1.05],[0.26,0.55],[0.32,0.2],[0.38,0.04],[0.44,0]],
  [[-0.36,0],[-0.28,0.1],[-0.2,0.45],[-0.14,1.0],[-0.08,1.8],[-0.02,2.6],[0.035,3.15],[0.08,3.0],[0.13,2.4],[0.18,1.6],[0.22,1.3],[0.26,1.25],[0.3,0.9],[0.36,0.5],[0.42,0.15],[0.48,0.02],[0.52,0]],
  [[-0.44,0],[-0.36,0.1],[-0.3,0.5],[-0.24,1.3],[-0.18,2.2],[-0.13,2.8],[-0.085,3.05],[-0.04,2.85],[0,2.45],[0.05,1.85],[0.1,1.25],[0.15,0.75],[0.2,0.35],[0.26,0.1],[0.32,0]],
  [[-0.4,0],[-0.32,0.15],[-0.26,0.8],[-0.2,1.7],[-0.15,2.5],[-0.09,2.95],[-0.05,2.85],[0,2.5],[0.05,2.0],[0.1,1.4],[0.16,0.8],[0.22,0.35],[0.28,0.1],[0.34,0]],
  [[-0.4,0],[-0.34,0.1],[-0.3,0.45],[-0.27,1.1],[-0.25,1.9],[-0.23,2.6],[-0.21,2.82],[-0.18,2.7],[-0.15,2.55],[-0.12,2.6],[-0.09,2.7],[-0.05,2.3],[0,1.5],[0.05,0.85],[0.1,0.4],[0.15,0.15],[0.2,0.03],[0.24,0]],
  [[-0.6,0],[-0.5,0.1],[-0.4,0.3],[-0.34,0.7],[-0.3,0.98],[-0.24,0.95],[-0.18,1.2],[-0.12,1.7],[-0.06,2.1],[0,2.25],[0.05,2.15],[0.1,1.8],[0.16,1.35],[0.22,0.85],[0.28,0.45],[0.34,0.18],[0.4,0.04],[0.46,0]],
  [[-0.6,0],[-0.5,0.08],[-0.42,0.2],[-0.34,0.5],[-0.26,1.0],[-0.18,1.6],[-0.12,1.95],[-0.08,2.0],[-0.04,2.0],[0,2.05],[0.04,2.1],[0.09,1.9],[0.14,1.6],[0.2,1.25],[0.26,0.85],[0.31,0.55],[0.35,0.5],[0.4,0.35],[0.46,0.12],[0.52,0.02],[0.56,0]],
  [[-0.66,0],[-0.56,0.05],[-0.46,0.12],[-0.38,0.3],[-0.32,0.48],[-0.27,0.45],[-0.22,0.5],[-0.18,0.8],[-0.13,1.5],[-0.09,2.2],[-0.05,2.6],[-0.02,2.65],[0.02,2.4],[0.07,1.8],[0.12,1.2],[0.18,0.6],[0.24,0.22],[0.3,0.05],[0.36,0]]
];

var panels = [
  { no: loc1No, yes: loc1Yes }, { no: loc2No, yes: loc2Yes }, { no: loc3No, yes: loc3Yes },
  { no: loc4No, yes: loc4Yes }, { no: loc5No, yes: loc5Yes }, { no: loc6No, yes: loc6Yes }
];

// layout
var colLeft = [30, 450, 870];
var rowTop = [42.7, 446.7];
var pw = 367, ph = 310.6;
var colors = { No: "#b01f28", Yes: "#3b7fbc" };

var svg = d3.select("#chart");

var x = d3.scaleLinear().domain([-0.66, 0.66]).range([0, pw]);
var y = d3.scaleLinear().domain([0, 5.5]).range([ph, 0]);

// centripetal catmull-rom keeps the peaks round like a kernel density
var line = d3.line()
  .x(function(d) { return x(d[0]); })
  .y(function(d) { return y(Math.max(0, d[1])); })
  .curve(d3.curveCatmullRom.alpha(0.5));

var xMinor = [-0.45, -0.15, 0.15, 0.45];
var yMinor = [0.5, 1.5, 2.5, 3.5, 4.5, 5.5];

panels.forEach(function(p, i) {
  var left = colLeft[i % 3], top = rowTop[Math.floor(i / 3)];
  var g = svg.append("g").attr("transform", "translate(" + left + "," + top + ")");

  // grid
  g.selectAll(".gxm").data(xMinor).enter().append("line")
    .attr("x1", x).attr("x2", x).attr("y1", 0).attr("y2", ph)
    .attr("stroke", "#f0f0f0").attr("stroke-width", 1);
  g.selectAll(".gym").data(yMinor).enter().append("line")
    .attr("x1", 0).attr("x2", pw).attr("y1", y).attr("y2", y)
    .attr("stroke", "#f0f0f0").attr("stroke-width", 1);
  g.selectAll(".gx").data(xTicks).enter().append("line")
    .attr("x1", x).attr("x2", x).attr("y1", 0).attr("y2", ph)
    .attr("stroke", "#e6e6e6").attr("stroke-width", 1.1);
  g.selectAll(".gy").data(yTicks).enter().append("line")
    .attr("x1", 0).attr("x2", pw).attr("y1", y).attr("y2", y)
    .attr("stroke", "#e6e6e6").attr("stroke-width", 1.1);

  // clip for the curves
  g.append("clipPath").attr("id", "clip" + i)
    .append("rect").attr("width", pw).attr("height", ph);

  // interleave the two groups so overlaps look mixed
  var curves = [];
  var n = Math.max(p.no.length, p.yes.length);
  for (var k = 0; k < n; k++) {
    if (p.no[k]) curves.push({ grp: "No", pts: p.no[k] });
    if (p.yes[k]) curves.push({ grp: "Yes", pts: p.yes[k] });
  }
  g.append("g").attr("clip-path", "url(#clip" + i + ")")
    .selectAll("path").data(curves).enter().append("path")
    .attr("d", function(d) { return line(d.pts); })
    .attr("fill", "none")
    .attr("stroke", function(d) { return colors[d.grp]; })
    .attr("stroke-width", 1.9)
    .attr("stroke-linejoin", "round");

  // axes
  var xa = g.append("g").attr("transform", "translate(0," + ph + ")")
    .call(d3.axisBottom(x).tickValues(xTicks).tickSize(0).tickPadding(9)
      .tickFormat(function(d) { return d.toFixed(1); }));
  var ya = g.append("g")
    .call(d3.axisLeft(y).tickValues(yTicks).tickSize(0).tickPadding(7.5)
      .tickFormat(function(d) { return d; }));
  [xa, ya].forEach(function(a) {
    a.select(".domain").remove();
    a.selectAll("text")
      .attr("font-family", "'Liberation Sans', Arial, sans-serif")
      .attr("font-size", 20).attr("font-weight", "bold").attr("fill", "#404040");
  });
  g.append("line").attr("x1", 0).attr("x2", 0).attr("y1", 0).attr("y2", ph + 1)
    .attr("stroke", "#000").attr("stroke-width", 2);
  g.append("line").attr("x1", -1).attr("x2", pw).attr("y1", ph).attr("y2", ph)
    .attr("stroke", "#000").attr("stroke-width", 2);

  // title
  g.append("text").attr("x", pw / 2).attr("y", -13.4)
    .attr("text-anchor", "middle").attr("font-size", 24.5).attr("font-weight", "bold")
    .attr("fill", "#000").text(titles[i]);

  // legend
  var lg = g.append("g").attr("transform", "translate(250.7,0)");
  lg.append("text").attr("x", 0).attr("y", 39).attr("font-size", 15)
    .attr("fill", "#1a1a1a").text(legendTitle);
  groups.forEach(function(grp, j) {
    var ly = 61.3 + j * 23.7;
    lg.append("line").attr("x1", 2.3).attr("x2", 21.3).attr("y1", ly).attr("y2", ly)
      .attr("stroke", colors[grp]).attr("stroke-width", 3.2);
    lg.append("text").attr("x", 31.3).attr("y", ly).attr("dy", "0.36em")
      .attr("font-size", 12).attr("fill", "#1a1a1a").text(grp);
  });
});

</script>
</body>
</html>
